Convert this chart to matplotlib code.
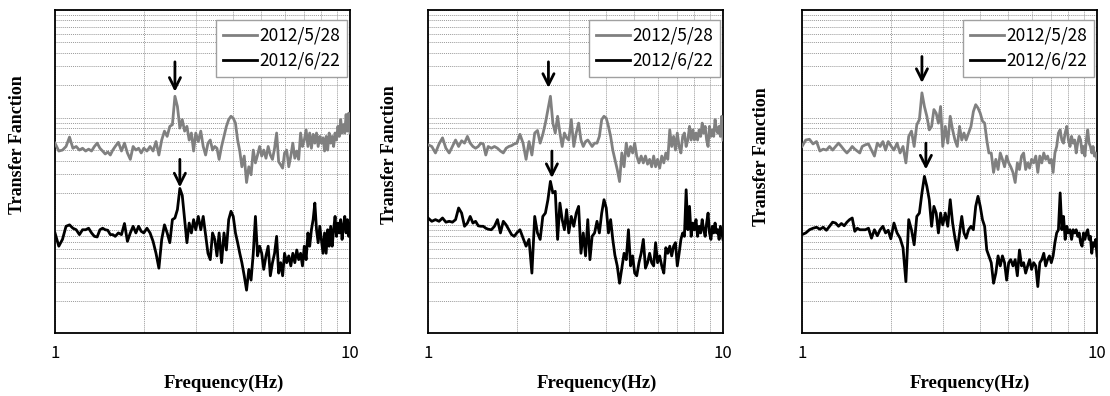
import matplotlib
matplotlib.use("Agg", force=True)
import matplotlib.pyplot as plt
from matplotlib.ticker import LogLocator, NullFormatter

# frequency grid shared by every curve (Hz)
FREQ = [
    1.00, 1.03, 1.06, 1.09, 1.12, 1.15, 1.18, 1.21, 1.24, 1.27,
    1.30, 1.33, 1.36, 1.39, 1.42, 1.45, 1.48, 1.51, 1.54, 1.57,
    1.60, 1.64, 1.68, 1.72, 1.76, 1.80, 1.84, 1.88, 1.92, 1.96,
    2.00, 2.05, 2.10, 2.15, 2.20, 2.25, 2.30, 2.35, 2.40, 2.45,
    2.50, 2.55, 2.60, 2.65, 2.70, 2.75, 2.80, 2.85, 2.90, 2.95,
    3.00, 3.06, 3.12, 3.18, 3.24, 3.30, 3.36, 3.42, 3.48, 3.54,
    3.60, 3.67, 3.74, 3.81, 3.88, 3.95, 4.02, 4.09, 4.16, 4.23,
    4.30, 4.38, 4.46, 4.54, 4.62, 4.70, 4.78, 4.86, 4.94, 5.02,
    5.10, 5.19, 5.28, 5.37, 5.46, 5.55, 5.64, 5.73, 5.82, 5.91,
    6.0, 6.1, 6.2, 6.3, 6.4, 6.5, 6.6, 6.7, 6.8, 6.9,
    7.0, 7.1, 7.2, 7.3, 7.4, 7.5, 7.6, 7.7, 7.8, 7.9,
    8.0, 8.1, 8.2, 8.3, 8.4, 8.5, 8.6, 8.7, 8.8, 8.9,
    9.0, 9.1, 9.2, 9.3, 9.4, 9.5, 9.6, 9.7, 9.8, 9.9,
    10.0,
]

LABELS = ["2012/5/28", "2012/6/22"]

P1_GRAY = [
    5.8, 4.9, 5.0, 5.4, 6.6, 5.2, 5.4, 5.0, 5.2, 4.9,
    5.1, 4.9, 5.4, 5.8, 5.2, 4.9, 4.6, 4.8, 4.5, 5.0,
    5.4, 5.9, 4.9, 5.8, 4.7, 4.1, 5.4, 5.0, 5.2, 4.7,
    5.2, 4.9, 5.4, 4.9, 6.0, 4.5, 6.2, 7.5, 6.7, 8.3,
    8.6, 15.8, 12.7, 8.0, 9.6, 7.5, 8.3, 6.2, 7.2, 4.9,
    7.2, 6.0, 7.5, 5.4, 4.5, 5.8, 6.2, 5.0, 5.4, 5.2,
    4.1, 5.4, 6.7, 8.3, 9.6, 10.3, 9.9, 8.9, 6.2, 4.9,
    3.5, 4.4, 2.5, 3.5, 2.95, 5.0, 3.8, 4.5, 5.4, 4.4,
    5.0, 4.2, 5.4, 4.5, 4.1, 5.2, 7.2, 3.9, 3.65, 3.4,
    4.7, 5.0, 3.5, 4.4, 5.8, 4.2, 4.9, 4.1, 7.2, 5.4,
    6.2, 7.7, 5.4, 7.2, 5.2, 7.0, 5.8, 7.2, 5.4, 6.7,
    5.8, 6.5, 4.9, 6.7, 5.0, 7.2, 5.8, 6.7, 5.4, 7.2,
    6.2, 8.3, 6.7, 9.6, 7.2, 8.6, 7.2, 10.7, 7.5, 11.0,
    7.2,
]
P1_BLACK = [
    0.85, 0.64, 0.74, 0.98, 1.01, 0.94, 0.91, 0.82, 0.91, 0.91,
    0.94, 0.85, 0.79, 0.78, 0.91, 0.94, 0.91, 0.90, 0.82, 0.82,
    0.79, 0.85, 0.82, 1.04, 0.71, 0.85, 0.98, 0.85, 0.98, 0.88,
    0.85, 0.94, 0.85, 0.71, 0.55, 0.40, 0.74, 1.01, 0.85, 0.69,
    1.13, 1.17, 1.40, 2.2, 1.9, 1.13, 0.69, 1.05, 0.85, 1.13,
    0.91, 1.21, 0.91, 1.21, 0.82, 0.55, 0.48, 0.85, 0.74, 0.52,
    0.85, 0.45, 0.85, 0.59, 1.13, 1.35, 1.21, 0.85, 0.69, 0.55,
    0.45, 0.34, 0.25, 0.39, 0.31, 0.55, 1.21, 0.52, 0.64, 0.55,
    0.39, 0.52, 0.64, 0.34, 0.45, 0.55, 0.79, 0.36, 0.45, 0.34,
    0.55, 0.45, 0.52, 0.42, 0.55, 0.45, 0.59, 0.48, 0.55, 0.42,
    0.64, 0.48, 0.85, 0.64, 0.91, 1.13, 1.61, 0.91, 0.69, 0.98,
    0.74, 0.55, 0.85, 0.55, 0.91, 0.64, 0.98, 0.64, 0.91, 1.21,
    0.79, 1.05, 0.85, 1.13, 0.74, 0.98, 1.21, 0.85, 1.13, 0.79,
    1.05,
]

P2_GRAY = [
    5.6, 5.4, 4.7, 5.7, 6.5, 5.2, 4.7, 5.4, 6.2, 5.4,
    6.1, 5.8, 6.7, 5.8, 5.4, 5.2, 5.4, 5.8, 5.7, 4.5,
    5.4, 5.2, 5.4, 5.2, 4.9, 4.7, 5.2, 5.4, 5.5, 5.7,
    5.8, 7.0, 5.8, 4.1, 6.0, 4.5, 7.2, 7.6, 5.8, 7.0,
    8.9, 11.9, 15.8, 8.9, 7.2, 10.3, 7.2, 5.4, 7.2, 6.5,
    6.2, 9.6, 5.4, 7.2, 8.9, 6.2, 5.4, 6.0, 6.2, 5.8,
    5.4, 5.8, 5.8, 6.7, 9.6, 10.3, 9.9, 8.3, 6.7, 5.0,
    4.1, 3.3, 2.55, 4.7, 3.5, 5.8, 4.4, 5.4, 4.7, 5.8,
    4.4, 3.8, 4.4, 3.8, 4.4, 3.7, 4.1, 3.5, 4.4, 3.5,
    4.1, 3.4, 4.4, 3.8, 4.7, 4.1, 7.7, 5.4, 6.7, 5.0,
    7.2, 5.4, 4.7, 6.7, 7.2, 5.4, 6.2, 8.3, 6.2, 7.7,
    6.2, 7.2, 6.2, 7.7, 6.7, 8.9, 7.2, 8.3, 6.2, 5.4,
    8.3, 6.7, 7.7, 6.7, 9.6, 7.7, 7.2, 8.3, 6.7, 10.3,
    6.2,
]
P2_BLACK = [
    1.17, 1.09, 1.13, 1.09, 1.17, 1.07, 1.09, 1.07, 1.13, 1.45,
    1.30, 0.98, 1.05, 1.21, 1.05, 1.09, 0.99, 0.98, 0.98, 0.94,
    0.92, 0.91, 0.98, 1.13, 0.85, 1.09, 1.01, 0.91, 0.82, 0.79,
    0.85, 0.91, 0.76, 0.64, 0.74, 0.36, 1.21, 0.85, 0.74, 1.21,
    1.30, 1.73, 2.56, 2.0, 2.07, 0.74, 1.61, 1.13, 0.91, 1.40,
    0.85, 1.21, 0.98, 1.30, 1.50, 0.55, 0.85, 0.52, 1.13, 0.48,
    0.79, 0.85, 1.09, 0.85, 1.30, 1.73, 1.45, 0.85, 1.13, 0.74,
    0.53, 0.42, 0.29, 0.40, 0.55, 0.48, 0.91, 0.42, 0.52, 0.36,
    0.34, 0.45, 0.55, 0.74, 0.40, 0.45, 0.55, 0.45, 0.42, 0.69,
    0.45, 0.52, 0.42, 0.36, 0.62, 0.55, 0.64, 0.52, 0.64, 0.69,
    0.42, 0.55, 0.74, 0.85, 0.79, 2.14, 0.91, 1.50, 0.79, 1.05,
    0.91, 1.13, 0.79, 0.98, 0.85, 1.13, 0.91, 0.79, 1.05, 1.30,
    0.85, 0.74, 0.98, 0.85, 1.05, 0.85, 0.91, 0.74, 0.98, 0.85,
    0.74,
]

P3_GRAY = [
    5.4, 6.2, 6.3, 5.7, 6.0, 4.9, 5.1, 5.0, 5.4, 5.0,
    5.4, 5.8, 5.4, 5.0, 4.7, 5.0, 5.4, 5.1, 4.9, 4.7,
    5.4, 5.6, 5.7, 5.0, 4.4, 5.8, 5.4, 6.0, 5.0, 6.0,
    5.5, 5.0, 5.8, 4.7, 5.4, 3.8, 6.7, 7.5, 5.4, 8.6,
    9.6, 17.0, 12.7, 10.3, 7.7, 8.3, 11.9, 11.0, 8.9, 12.7,
    5.4, 8.3, 5.8, 10.3, 7.7, 6.2, 5.4, 8.3, 6.2, 7.2,
    6.2, 7.2, 8.3, 11.4, 13.2, 12.3, 11.0, 9.3, 8.9, 6.2,
    4.7, 4.7, 3.1, 4.1, 3.3, 4.7, 4.1, 3.5, 4.4, 3.8,
    3.5, 3.1, 2.5, 3.8, 3.3, 4.4, 4.7, 3.3, 3.8, 3.4,
    4.1, 3.8, 4.4, 3.1, 4.4, 3.8, 4.7, 4.1, 4.4, 3.8,
    4.1, 3.1, 4.7, 5.4, 7.2, 7.7, 6.2, 5.8, 7.2, 8.3,
    6.2, 5.4, 6.7, 5.8, 6.2, 4.7, 5.8, 6.7, 6.2, 4.7,
    5.4, 4.4, 6.2, 7.7, 5.8, 5.4, 4.7, 5.4, 4.4, 4.7,
    4.1,
]
P3_BLACK = [
    0.82, 0.85, 0.91, 0.94, 0.96, 0.92, 0.96, 0.90, 0.98, 1.07,
    1.05, 0.98, 1.04, 0.99, 1.07, 1.13, 1.17, 0.88, 0.94, 0.91,
    0.91, 0.91, 0.94, 0.76, 0.91, 0.80, 0.91, 0.98, 0.85, 0.90,
    0.75, 1.05, 0.85, 0.76, 0.62, 0.30, 1.13, 0.91, 0.66, 1.21,
    1.30, 2.0, 2.85, 2.3, 1.73, 0.98, 1.50, 1.30, 0.85, 1.30,
    1.01, 1.30, 0.98, 1.73, 1.05, 0.76, 0.59, 0.85, 1.21, 0.85,
    0.76, 0.91, 0.98, 0.91, 1.50, 1.86, 1.50, 1.13, 0.98, 0.59,
    0.52, 0.45, 0.29, 0.36, 0.52, 0.42, 0.52, 0.45, 0.31, 0.45,
    0.48, 0.42, 0.48, 0.34, 0.59, 0.42, 0.45, 0.36, 0.42, 0.48,
    0.39, 0.45, 0.42, 0.27, 0.45, 0.48, 0.55, 0.42, 0.48, 0.52,
    0.45, 0.52, 0.69, 0.85, 0.91, 2.0, 0.91, 1.21, 0.74, 0.98,
    0.85, 0.91, 0.74, 0.91, 0.85, 0.91, 0.79, 0.85, 0.69, 0.64,
    0.85, 0.74, 0.85, 0.91, 0.74, 0.79, 0.55, 0.69, 0.64, 0.74,
    0.52,
]

# peak arrows: (frequency, tip value, tail value)
P1_ARROWS = [(2.55, 17.4, 33.0), (2.65, 2.25, 4.1)]
P2_ARROWS = [(2.56, 18.9, 33.0), (2.63, 2.75, 4.9)]
P3_ARROWS = [(2.55, 21.0, 37.0), (2.63, 3.3, 5.8)]

W, H = 1110, 396
SANS = ["Noto Sans CJK JP", "DejaVu Sans"]


def draw_panel(fig, left_px, gray, black, arrows, ylab_xy, xlab_xy):
    ax = fig.add_axes([left_px / W, (H - 333) / H, 295 / W, 323 / H])
    ax.plot(FREQ, gray, color="#808080", lw=2.0, label=LABELS[0], zorder=3)
    ax.plot(FREQ, black, color="black", lw=2.0, label=LABELS[1], zorder=3)
    ax.set_xscale("log")
    ax.set_yscale("log")
    ax.set_xlim(1, 10)
    ax.set_ylim(0.1, 100)

    ax.set_xticks([1, 10])
    ax.set_xticklabels(["1", "10"], fontfamily=SANS, fontsize=12)
    ax.set_xticks([2, 3, 4, 5, 6, 7, 8, 9], minor=True)
    ax.xaxis.set_minor_formatter(NullFormatter())
    ax.yaxis.set_major_locator(LogLocator(base=10))
    ax.yaxis.set_minor_locator(LogLocator(base=10, subs=range(2, 10)))
    ax.yaxis.set_major_formatter(NullFormatter())
    ax.yaxis.set_minor_formatter(NullFormatter())
    ax.tick_params(which="both", length=0)
    ax.tick_params(axis="x", pad=9)

    ax.set_axisbelow(True)
    ax.grid(which="both", color="#9a9a9a", ls=(0, (1, 1)), lw=0.7)
    for sp in ax.spines.values():
        sp.set_linewidth(1.3)
        sp.set_color("black")

    for f, tip, tail in arrows:
        ax.annotate("", xy=(f, tip), xytext=(f, tail),
                    arrowprops=dict(arrowstyle="->", lw=2.0, color="black",
                                    mutation_scale=20, shrinkA=0, shrinkB=0),
                    zorder=5)

    leg = ax.legend(loc="upper right", bbox_to_anchor=(0.99, 0.97), borderaxespad=0,
                    prop={"family": SANS, "size": 12.5}, fancybox=False, framealpha=1,
                    edgecolor="#a0a0a0", handlelength=2.0, handletextpad=0.1,
                    labelspacing=0.4, borderpad=0.4)
    leg.get_frame().set_linewidth(1.0)

    fig.text(ylab_xy[0] / W, 1 - ylab_xy[1] / H, "Transfer Fanction", rotation=90,
             ha="center", va="center", fontfamily="Liberation Serif",
             fontweight="bold", fontsize=13)
    fig.text(xlab_xy[0] / W, 1 - xlab_xy[1] / H, "Frequency(Hz)",
             ha="center", va="center", fontfamily="Liberation Serif",
             fontweight="bold", fontsize=13.5)
    return ax


def main():
    fig = plt.figure(figsize=(W / 100, H / 100), dpi=100)
    draw_panel(fig, 55, P1_GRAY, P1_BLACK, P1_ARROWS, (18, 145), (224, 383))
    draw_panel(fig, 428, P2_GRAY, P2_BLACK, P2_ARROWS, (390, 155), (597, 383))
    draw_panel(fig, 802, P3_GRAY, P3_BLACK, P3_ARROWS, (762, 157), (970, 383))
    fig.savefig("out.png", dpi=100)
    plt.close(fig)


if __name__ == "__main__":
    main()
